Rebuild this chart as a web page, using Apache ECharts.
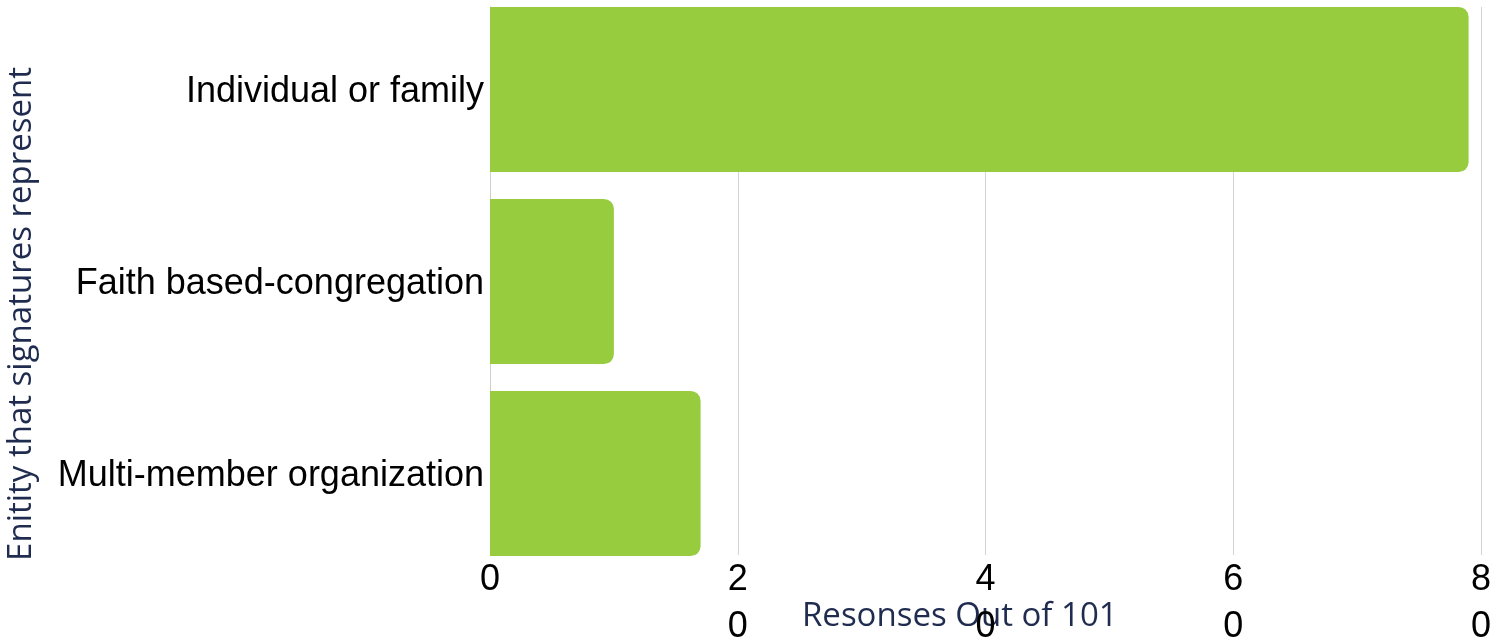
<!DOCTYPE html>
<html>
<head>
<meta charset="utf-8">
<script src="https://cdn.jsdelivr.net/npm/echarts@6/dist/echarts.min.js"></script>
<style>
  html, body { margin: 0; padding: 0; background: #fff; }
  #chart { width: 1507px; height: 643px; }
</style>
</head>
<body>
<div id="chart"></div>
<script>
// data
const categories = ["Individual or family", "Faith based-congregation", "Multi-member organization"];
const responses = [79, 10, 17];
const xMin = 0;
const xMax = 80;
const xStep = 20;

const xTitle = "Resonses Out of 101";
const yTitle = "Enitity that signatures represent";

const barColor = "#97cc3f";
const titleColor = "#1f2c4f";

const chart = echarts.init(document.getElementById("chart"));

// grid 0 holds the bars (bands slightly taller than the plot so bars touch its edges),
// grid 1 holds the visible x axis, gridlines and the y axis line
const option = {
    animation: false,
    grid: [
        { left: 490, right: 26, top: -6.5, bottom: 73.5, outerBoundsMode: "none" },
        { left: 490, right: 26, top: 7, bottom: 88, outerBoundsMode: "none" },
    ],
    xAxis: [
        {
            gridIndex: 0,
            type: "value",
            min: xMin,
            max: xMax,
            show: false,
        },
        {
            gridIndex: 1,
            type: "value",
            min: xMin,
            max: xMax,
            interval: xStep,
            axisLine: { show: false },
            axisTick: { show: false },
            splitLine: { show: true, lineStyle: { color: "#d4d4d4", width: 1 } },
            axisLabel: {
                color: "#000",
                fontFamily: "Liberation Sans",
                fontSize: 36,
                lineHeight: 47,
                margin: 2,
                verticalAlign: "top",
                formatter: (v) => String(v).split("").join("\n"),
            },
        },
    ],
    yAxis: [
        {
            gridIndex: 0,
            type: "category",
            inverse: true,
            data: categories,
            axisLine: { show: false },
            axisTick: { show: false },
            splitLine: { show: false },
            axisLabel: {
                margin: 6,
                formatter: (v) => "{c|" + v + "}",
                rich: {
                    c: {
                        color: "#000",
                        fontFamily: "Liberation Sans",
                        fontSize: 36,
                        padding: [6, 0, 0, 0],
                    },
                },
            },
        },
        {
            gridIndex: 1,
            type: "value",
            min: 0,
            max: 1,
            axisLine: { show: true, lineStyle: { color: "#cfcfcf", width: 1 } },
            axisTick: { show: false },
            axisLabel: { show: false },
            splitLine: { show: false },
        },
    ],
    graphic: [
        {
            type: "text",
            x: 802,
            y: 617,
            style: {
                text: xTitle,
                fill: titleColor,
                font: "33px 'Open Sans'",
                verticalAlign: "middle",
            },
        },
        {
            type: "text",
            x: 22,
            y: 314,
            rotation: Math.PI / 2,
            style: {
                text: yTitle,
                fill: titleColor,
                font: "33px 'Open Sans'",
                align: "center",
                verticalAlign: "middle",
            },
        },
    ],
    series: [
        {
            type: "bar",
            xAxisIndex: 0,
            yAxisIndex: 0,
            data: responses,
            barCategoryGap: "14%",
            itemStyle: { color: barColor, borderRadius: [0, 10, 10, 0] },
        },
    ],
};

chart.setOption(option);
</script>
</body>
</html>
